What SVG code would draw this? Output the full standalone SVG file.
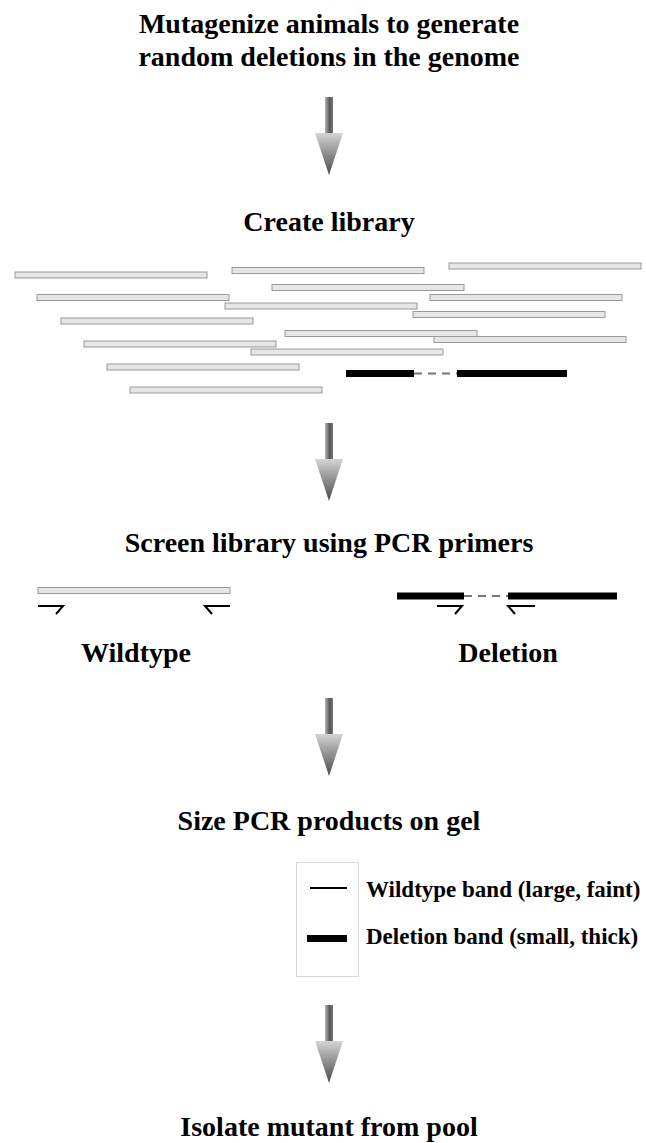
<svg xmlns="http://www.w3.org/2000/svg" width="646" height="1143" viewBox="0 0 646 1143">
<defs>
<linearGradient id="shaftGrad" x1="0" y1="0" x2="1" y2="0">
<stop offset="0" stop-color="#b5b5b5"/>
<stop offset="0.6" stop-color="#555555"/>
<stop offset="1" stop-color="#7a7a7a"/>
</linearGradient>
<linearGradient id="headGrad" x1="0" y1="0" x2="0" y2="1">
<stop offset="0" stop-color="#d4d4d4"/>
<stop offset="1" stop-color="#4a4a4a"/>
</linearGradient>
<g id="bigArrow">
<rect x="325" y="0" width="8" height="36" fill="url(#shaftGrad)"/>
<polygon points="315,36 343,36 329,78" fill="url(#headGrad)"/>
</g>
</defs>
<style>
.t{font-family:"Liberation Serif","Times New Roman",serif;font-weight:bold;fill:#000;}
.big{font-size:28px;text-anchor:middle;}
.leg{font-size:23px;}
.frag{fill:#e6e6e6;stroke:#999;stroke-width:1;}
.blk{fill:#000;}
.dash{stroke:#777;stroke-width:2;stroke-dasharray:8 6;fill:none;}
.primer{stroke:#000;stroke-width:2;fill:none;}
</style>
<rect width="646" height="1143" fill="#fff"/>

<g id="step-mutagenize">
<text class="t big" x="329" y="33">Mutagenize animals to generate</text>
<text class="t big" x="329" y="66">random deletions in the genome</text>
</g>

<g id="step-create-library">
<text class="t big" x="329" y="231">Create library</text>
</g>

<g id="library-fragments">
<rect class="frag" x="15" y="272" width="192" height="6"/>
<rect class="frag" x="232" y="267.5" width="192" height="6"/>
<rect class="frag" x="449" y="263" width="192" height="6"/>
<rect class="frag" x="272" y="284.5" width="192" height="6"/>
<rect class="frag" x="37" y="294.5" width="192" height="6"/>
<rect class="frag" x="430" y="294.5" width="192" height="6"/>
<rect class="frag" x="225" y="303" width="192" height="6"/>
<rect class="frag" x="413" y="311.5" width="192" height="6"/>
<rect class="frag" x="61" y="318" width="192" height="6"/>
<rect class="frag" x="285" y="330.5" width="192" height="6"/>
<rect class="frag" x="434" y="336.5" width="192" height="6"/>
<rect class="frag" x="84" y="341" width="192" height="6"/>
<rect class="frag" x="251" y="349" width="192" height="6"/>
<rect class="frag" x="107" y="364" width="192" height="6"/>
<rect class="frag" x="130" y="387" width="192" height="6"/>
<rect class="blk" x="346" y="370" width="68" height="7"/>
<line class="dash" x1="414" y1="373.5" x2="457" y2="373.5"/>
<rect class="blk" x="457" y="370" width="110" height="7"/>
</g>

<g id="step-screen">
<text class="t big" x="329" y="552">Screen library using PCR primers</text>
</g>

<g id="wildtype">
<rect class="frag" x="38" y="587.5" width="192" height="6"/>
<path class="primer" d="M38,606 H63 L56,614"/>
<path class="primer" d="M230,606 H205 L212,614"/>
<text class="t big" x="136" y="662">Wildtype</text>
</g>

<g id="deletion">
<rect class="blk" x="397" y="592.5" width="67" height="7"/>
<line class="dash" x1="464" y1="596" x2="508" y2="596"/>
<rect class="blk" x="508" y="592.5" width="109" height="7"/>
<path class="primer" d="M437,606 H462 L455,614"/>
<path class="primer" d="M535,606 H508 L515,614"/>
<text class="t big" x="508" y="662">Deletion</text>
</g>

<g id="step-size">
<text class="t big" x="329" y="830">Size PCR products on gel</text>
</g>

<g id="gel-legend">
<rect x="296.5" y="862.5" width="62" height="114" fill="none" stroke="#d8d8d8" stroke-width="1"/>
<line x1="310" y1="888" x2="347" y2="888" stroke="#000" stroke-width="2"/>
<text class="t leg" x="366" y="897">Wildtype band (large, faint)</text>
<rect class="blk" x="307" y="935" width="40" height="7"/>
<text class="t leg" x="366" y="944">Deletion band (small, thick)</text>
</g>

<g id="step-isolate">
<text class="t big" x="329" y="1136">Isolate mutant from pool</text>
</g>

<g id="connectors">
<use href="#bigArrow" y="97"/>
<use href="#bigArrow" y="423"/>
<use href="#bigArrow" y="698"/>
<use href="#bigArrow" y="1005"/>
</g>
</svg>
